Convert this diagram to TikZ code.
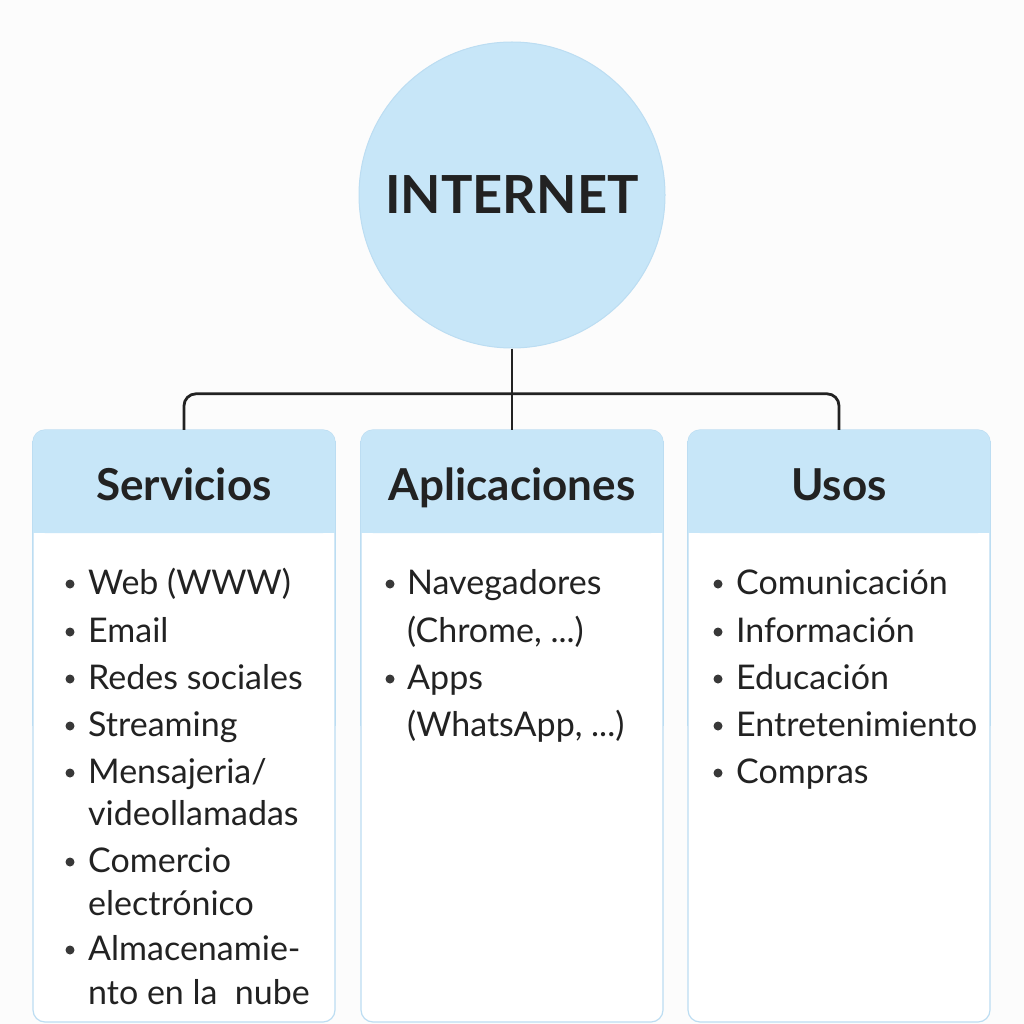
\documentclass[tikz,border=0pt]{standalone}
\usepackage{fontspec}
\setmainfont{Lato}
\begin{document}
\begin{tikzpicture}[x=1pt,y=-1pt]
  \definecolor{headblue}{HTML}{C7E6F8}
  \definecolor{edgeblue}{HTML}{BCDDF2}
  \definecolor{ink}{HTML}{222222}
  \tikzset{
    bodybox/.style={draw=edgeblue, line width=1.2pt, fill=white, rounded corners=12pt,
      minimum width=302pt, minimum height=592pt, inner sep=0pt},
    headbox/.style={fill=headblue, rounded corners=12pt,
      minimum width=302pt, minimum height=103pt, inner sep=0pt},
    headtext/.style={font=\fontsize{44}{52}\selectfont\bfseries, text=ink, inner sep=0pt, anchor=base},
    itemtext/.style={font=\fontsize{34}{40}\selectfont, text=ink, anchor=base west, inner sep=0pt},
    dot/.style={circle, fill=ink!90, minimum size=9pt, inner sep=0pt},
    link/.style={draw=ink, line width=2.8pt, rounded corners=12pt}
  }
  % canvas
  \fill[white!99!black] (0,0) rectangle (1024,1024);
  \useasboundingbox (0,0) rectangle (1024,1024);

  % central concept
  \node[circle, minimum size=306pt, inner sep=0pt, fill=headblue, draw=edgeblue, line width=1pt,
        font=\fontsize{52.5}{60}\selectfont\bfseries, text=ink] (inet) at (512,195) {INTERNET};

  % the three category boxes
  \foreach \n/\cx/\title in {1/184/Servicios, 2/512/Aplicaciones, 3/839/Usos}{
    \node[bodybox] (b\n) at (\cx,726) {};
    \node[headbox] (h\n) at (\cx,481.5) {};
    \fill[headblue] (h\n.west) rectangle (h\n.south east);
    \draw[edgeblue, line width=1.2pt] (b\n.north west) ++(0,12) -- (b\n.west);
    \draw[edgeblue, line width=1.2pt] (b\n.north east) ++(0,12) -- (b\n.east);
    \node[headtext] (t\n) at (\cx,500) {\title};
  }

  % connectors
  \draw[link] (inet.south) -- (h2.north);
  \draw[link] (h1.north) -- ++(0,-36) -| (h3.north);

  % Servicios
  \foreach \y/\txt/\b [count=\i] in {594/{Web (WWW)}/1, 642/Email/1, 689/{Redes sociales}/1,
      736/Streaming/1, 783/{Mensajeria/}/1, 825/videollamadas/0, 872/Comercio/1,
      915/electrónico/0, 960/Almacenamie-/1, 1004/{nto en la\ \ nube}/0}{
    \node[itemtext] (s\i) at (88,\y) {\txt};
    \ifnum\b=1 \node[dot] at (70,\y-10) {};\fi
  }
  % Aplicaciones
  \foreach \y/\txt/\b [count=\i] in {594/Navegadores/1, 642/{(Chrome, ...)}/0,
      689/Apps/1, 736/{(WhatsApp, ...)}/0}{
    \node[itemtext] (a\i) at (407,\y) {\txt};
    \ifnum\b=1 \node[dot] at (390,\y-10) {};\fi
  }
  % Usos
  \foreach \y/\txt [count=\i] in {594/Comunicación, 642/Información, 689/Educación,
      736/Entretenimiento, 783/Compras}{
    \node[itemtext] (u\i) at (736,\y) {\txt};
    \node[dot] at (718,\y-10) {};
  }
\end{tikzpicture}
\end{document}
